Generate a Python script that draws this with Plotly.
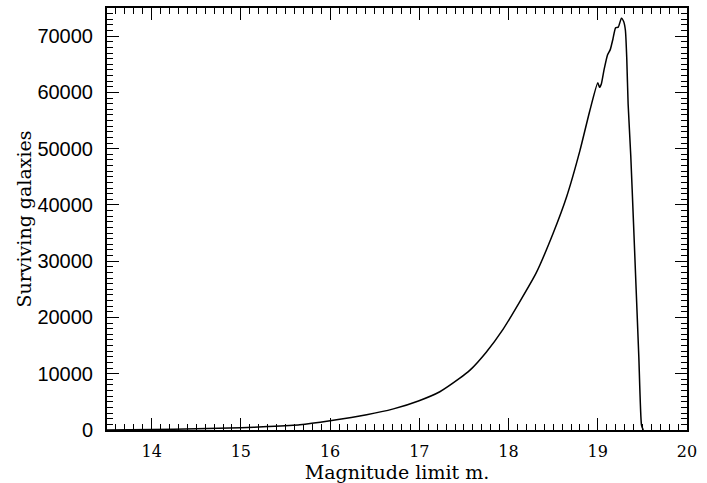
import plotly.graph_objects as go

magnitude = [13.5, 14.0, 14.5, 15.0, 15.3, 15.66, 16.0, 16.41, 16.71, 16.99, 17.23, 17.45,
             17.565, 17.75, 17.94, 18.12, 18.31, 18.50, 18.65, 18.80, 18.91, 19.00,
             19.02, 19.04, 19.07, 19.11, 19.14, 19.17, 19.20, 19.23, 19.265, 19.29,
             19.31, 19.325, 19.34, 19.37, 19.40, 19.43, 19.46, 19.49, 19.51]
surviving = [20, 80, 200, 400, 600, 930, 1640, 2700, 3750, 5160, 6800, 9160,
             10590, 13830, 17930, 22640, 27920, 34970, 41410, 49650, 56700, 61700,
             60900, 61500, 64000, 66700, 67600, 69500, 71500, 71600, 73200, 72600,
             71000, 66000, 58000, 48700, 37000, 25000, 13000, 880, 0]

x_ticks = [14, 15, 16, 17, 18, 19, 20]
y_ticks = [0, 10000, 20000, 30000, 40000, 50000, 60000, 70000]

fig = go.Figure()
fig.add_trace(go.Scatter(x=magnitude, y=surviving, mode="lines",
                         line=dict(color="black", width=1.5, shape="spline", smoothing=0.5),
                         showlegend=False))

axis_common = dict(showgrid=False, zeroline=False, showline=True, linecolor="black",
                   linewidth=2, mirror="allticks", ticks="inside", ticklen=12,
                   tickwidth=1.3, tickcolor="black")

fig.update_xaxes(range=[13.5, 20], tickmode="array", tickvals=x_ticks,
                 ticktext=[str(v) for v in x_ticks],
                 tickfont=dict(family="DejaVu Serif", size=16, color="black"),
                 title=dict(text="Magnitude limit m.", font=dict(family="DejaVu Serif", size=19, color="black"),
                            standoff=2),
                 minor=dict(ticks="inside", dtick=0.1, tick0=13.5, ticklen=6, tickwidth=1, tickcolor="black"),
                 ticklabelstandoff=6,
                 **axis_common)
fig.update_yaxes(range=[0, 75000], tickmode="array", tickvals=y_ticks,
                 ticktext=[str(v) for v in y_ticks],
                 tickfont=dict(family="Liberation Sans", size=20, color="black"),
                 title=dict(text="Surviving galaxies", font=dict(family="DejaVu Serif", size=19, color="black"),
                            standoff=1),
                 minor=dict(ticks="inside", dtick=1000, tick0=0, ticklen=6, tickwidth=1, tickcolor="black"),
                 ticklabelstandoff=8,
                 **axis_common)

fig.update_layout(width=707, height=483, margin=dict(l=107, r=20, t=6, b=51),
                  plot_bgcolor="white", paper_bgcolor="white")

fig.write_html("out.html", config={"displayModeBar": False},
               post_script="document.body.style.margin='0';")
